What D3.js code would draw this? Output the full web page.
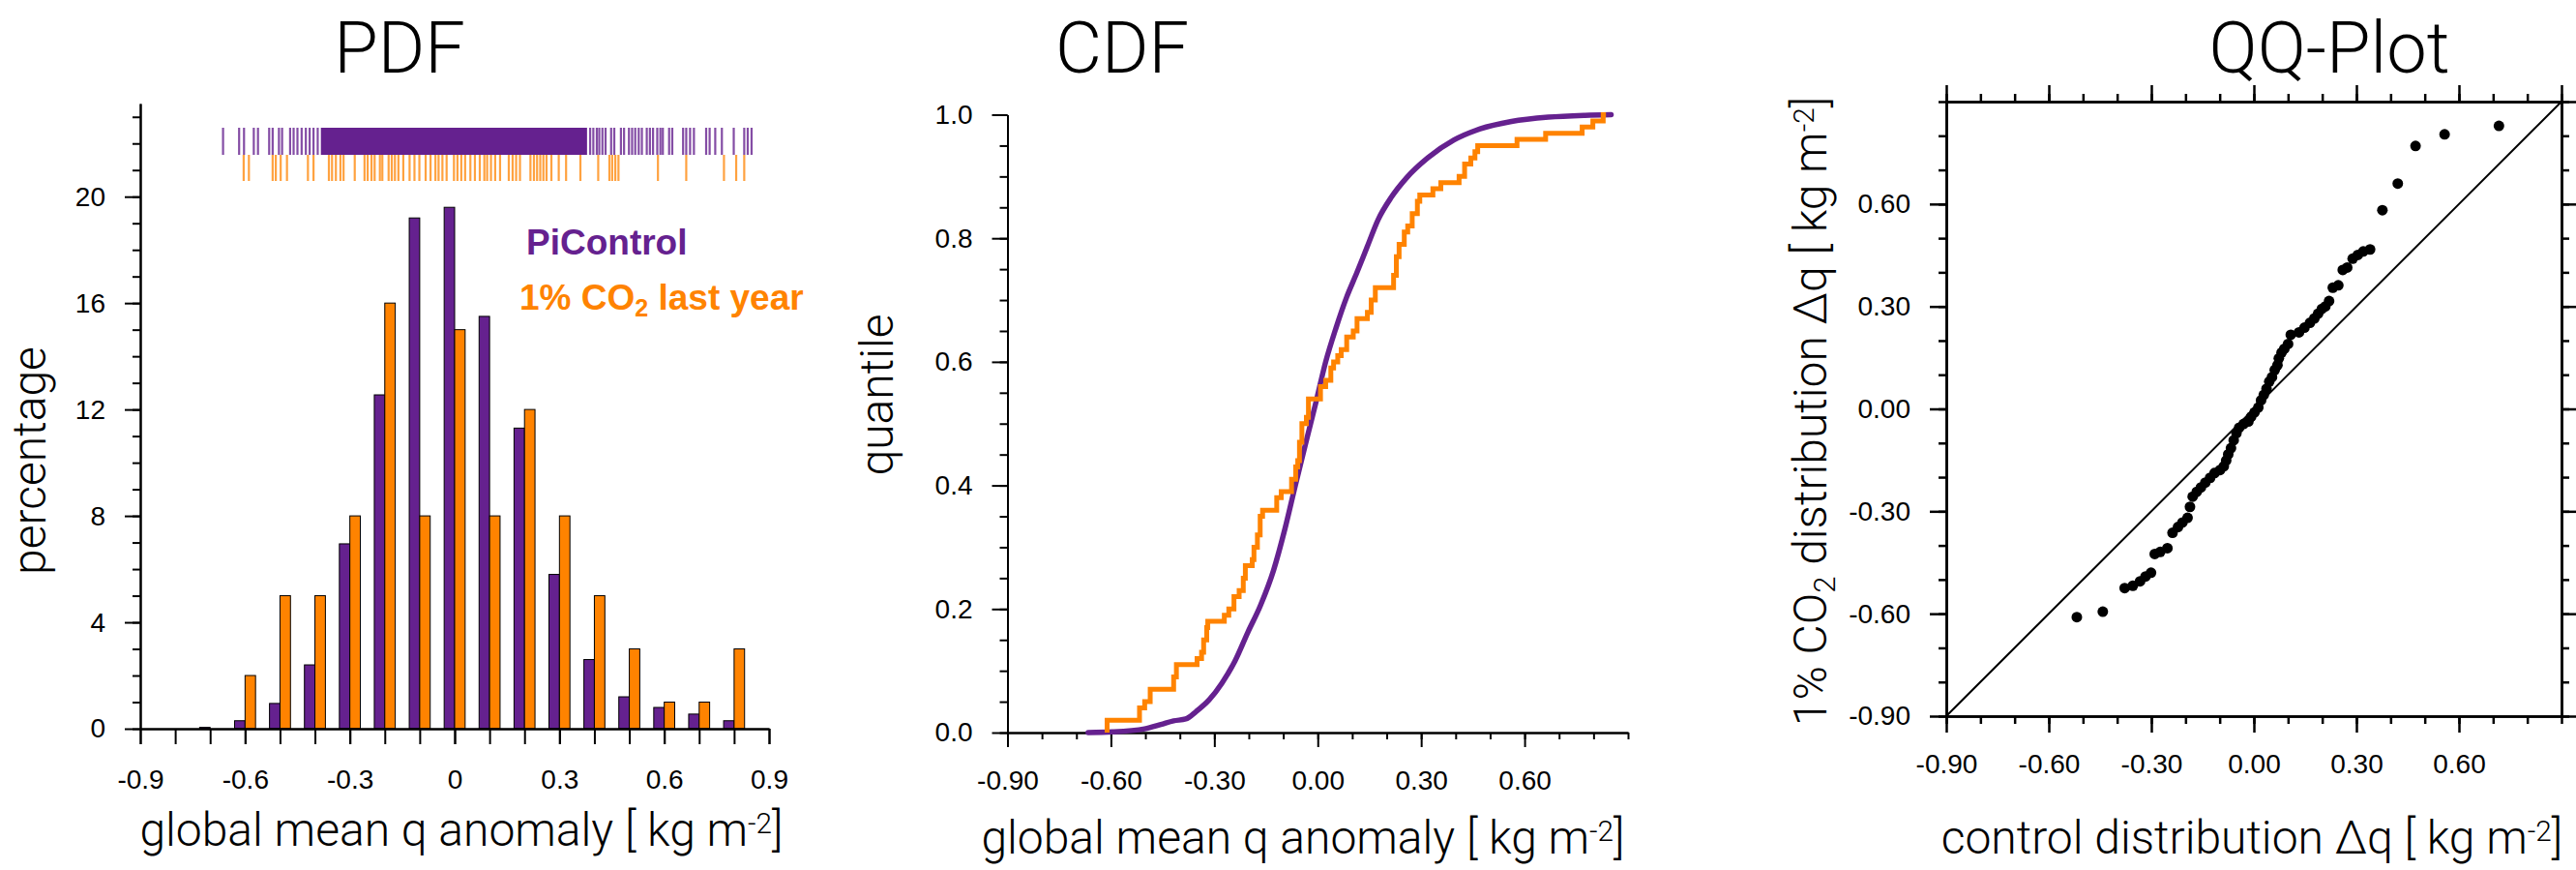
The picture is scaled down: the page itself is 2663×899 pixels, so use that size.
<!DOCTYPE html>
<html>
<head>
<meta charset="utf-8">
<script src="https://cdn.jsdelivr.net/npm/d3@7"></script>
<style>
  body { margin: 0; background: #fff; }
  svg { display: block; }
  .light { font-family: Roboto, "Liberation Sans", Arial, sans-serif; font-weight: 300; fill: #000; }
  .legend { font-family: "Liberation Sans", Arial, sans-serif; font-weight: bold; }
</style>
</head>
<body>
<svg id="fig" width="2663" height="899"></svg>
<script>
var purple = "#65218f",
    orange = "#ff8300",
    tickFont = "Liberation Sans, Arial, sans-serif",
    titleSize = 48;

// ---- PDF panel data (percent per 0.1 bin, bins centred on the ticks)
var pdfBins       = [-0.7, -0.6, -0.5, -0.4, -0.3, -0.2, -0.1, 0.0, 0.1, 0.2, 0.3, 0.4, 0.5, 0.6, 0.7, 0.8];
var pdfPiControl  = [0.05, 0.3, 0.95, 2.4, 6.95, 12.55, 19.2, 19.6, 15.5, 11.3, 5.8, 2.6, 1.2, 0.8, 0.55, 0.3];
var pdfCo2        = [0, 2, 5, 5, 8, 16, 8, 15, 8, 12, 8, 5, 3, 1, 1, 3];
var pdfXTicks     = [-0.9, -0.6, -0.3, 0, 0.3, 0.6, 0.9];
var pdfXLabels    = ["-0.9", "-0.6", "-0.3", "0", "0.3", "0.6", "0.9"];
var pdfYTicks     = [0, 4, 8, 12, 16, 20];
var pdfYLabels    = ["0", "4", "8", "12", "16", "20"];

// rug marks above the histogram
var rugPiControl = [-0.663, -0.617, -0.603, -0.575, -0.563, -0.531, -0.521, -0.503, -0.494, -0.471,
  -0.461, -0.45, -0.438, -0.426, -0.415, -0.404, -0.392,
  0.388, 0.397, 0.407, 0.414, 0.423, 0.432, 0.448, 0.457, 0.476, 0.485, 0.499, 0.508, 0.517,
  0.527, 0.536, 0.55, 0.559, 0.568, 0.58, 0.589, 0.596, 0.614, 0.623, 0.654, 0.663, 0.674,
  0.685, 0.72, 0.73, 0.746, 0.765, 0.799, 0.829, 0.839, 0.85];
var rugPiControlDense = [-0.383, 0.379];   // solid block of marks
var rugCo2 = [-0.604, -0.589, -0.521, -0.512, -0.498, -0.48, -0.42, -0.404, -0.36, -0.351, -0.34,
  -0.327, -0.318, -0.286, -0.258, -0.249, -0.238, -0.229, -0.214, -0.207, -0.189, -0.18, -0.171,
  -0.161, -0.147, -0.129, -0.115, -0.101, -0.083, -0.069, -0.055, -0.046, -0.035, -0.023, -0.002,
  0.008, 0.019, 0.03, 0.045, 0.058, 0.072, 0.085, 0.093, 0.104, 0.116, 0.13, 0.155, 0.166, 0.176,
  0.187, 0.217, 0.227, 0.236, 0.245, 0.254, 0.263, 0.277, 0.298, 0.319, 0.36, 0.411, 0.443, 0.451,
  0.46, 0.469, 0.582, 0.663, 0.771, 0.806, 0.829];

// ---- CDF panel data [anomaly, cumulative fraction]
var cdfPiControl = [[-0.666, 0.0], [-0.596, 0.001], [-0.502, 0.006], [-0.455, 0.013], [-0.418, 0.019],
  [-0.383, 0.022], [-0.353, 0.034], [-0.315, 0.053], [-0.278, 0.08], [-0.24, 0.116], [-0.203, 0.162],
  [-0.166, 0.206], [-0.128, 0.263], [-0.095, 0.33], [-0.065, 0.4], [-0.035, 0.468], [-0.005, 0.535],
  [0.023, 0.6], [0.053, 0.655], [0.084, 0.705], [0.114, 0.745], [0.144, 0.787], [0.175, 0.83],
  [0.213, 0.866], [0.258, 0.898], [0.319, 0.93], [0.395, 0.959], [0.471, 0.977], [0.562, 0.989],
  [0.669, 0.996], [0.775, 0.999], [0.851, 1.0]];
var cdfCo2 = [[-0.611, 0], [-0.611, 0.02], [-0.517, 0.04], [-0.502, 0.05], [-0.486, 0.07],
  [-0.418, 0.09], [-0.41, 0.11], [-0.35, 0.12], [-0.337, 0.13], [-0.331, 0.15], [-0.322, 0.17],
  [-0.319, 0.18], [-0.271, 0.19], [-0.258, 0.2], [-0.243, 0.22], [-0.228, 0.23], [-0.216, 0.25],
  [-0.21, 0.27], [-0.19, 0.28], [-0.185, 0.3], [-0.175, 0.32], [-0.167, 0.35], [-0.16, 0.36],
  [-0.119, 0.38], [-0.106, 0.39], [-0.076, 0.41], [-0.064, 0.43], [-0.058, 0.44], [-0.053, 0.47],
  [-0.046, 0.5], [-0.033, 0.51], [-0.027, 0.54], [0.008, 0.56], [0.023, 0.57], [0.038, 0.59],
  [0.046, 0.6], [0.058, 0.61], [0.068, 0.62], [0.084, 0.64], [0.103, 0.65], [0.114, 0.67],
  [0.125, 0.67], [0.144, 0.68], [0.155, 0.7], [0.167, 0.72], [0.22, 0.74], [0.228, 0.77],
  [0.236, 0.79], [0.251, 0.81], [0.261, 0.82], [0.274, 0.84], [0.289, 0.86], [0.296, 0.87],
  [0.334, 0.88], [0.357, 0.89], [0.41, 0.9], [0.426, 0.92], [0.444, 0.93], [0.456, 0.94],
  [0.464, 0.95], [0.578, 0.96], [0.661, 0.97], [0.767, 0.98], [0.798, 0.99], [0.828, 1.0], [0.836, 1.0]];
var cdfXTicks  = [-0.9, -0.6, -0.3, 0, 0.3, 0.6];
var cdfXLabels = ["-0.90", "-0.60", "-0.30", "0.00", "0.30", "0.60"];
var cdfYTicks  = [0, 0.2, 0.4, 0.6, 0.8, 1.0];
var cdfYLabels = ["0.0", "0.2", "0.4", "0.6", "0.8", "1.0"];

// ---- QQ panel data: control quantile vs 1% CO2 quantile
var qqControl = [-0.518, -0.442, -0.378, -0.354, -0.333, -0.317, -0.301, -0.29, -0.274, -0.253,
  -0.238, -0.222, -0.209, -0.194, -0.187, -0.179, -0.167, -0.155, -0.142, -0.128, -0.115, -0.099,
  -0.088, -0.081, -0.075, -0.067, -0.059, -0.051, -0.043, -0.03, -0.016, -0.008, 0.002, 0.013,
  0.021, 0.029, 0.037, 0.045, 0.053, 0.061, 0.069, 0.073, 0.081, 0.089, 0.1, 0.108, 0.132, 0.148,
  0.164, 0.177, 0.188, 0.199, 0.209, 0.22, 0.231, 0.247, 0.26, 0.273, 0.289, 0.304, 0.32, 0.34,
  0.376, 0.421, 0.473, 0.558, 0.717];
var qqCo2 = [-0.61, -0.594, -0.525, -0.518, -0.505, -0.491, -0.48, -0.425, -0.419, -0.408,
  -0.363, -0.346, -0.333, -0.319, -0.287, -0.257, -0.243, -0.23, -0.216, -0.202, -0.188, -0.179,
  -0.168, -0.151, -0.133, -0.115, -0.092, -0.071, -0.055, -0.044, -0.037, -0.023, -0.01, 0.004,
  0.025, 0.041, 0.059, 0.08, 0.093, 0.114, 0.128, 0.148, 0.165, 0.176, 0.19, 0.217, 0.224, 0.238,
  0.252, 0.265, 0.279, 0.293, 0.3, 0.316, 0.355, 0.362, 0.407, 0.414, 0.44, 0.451, 0.461, 0.467,
  0.582, 0.66, 0.77, 0.804, 0.829];
var qqTicks  = [-0.9, -0.6, -0.3, 0, 0.3, 0.6];
var qqLabels = ["-0.90", "-0.60", "-0.30", "0.00", "0.30", "0.60"];

var tenths = d3.range(-9, 10).map(function(k) { return k / 10; });

var svg = d3.select("#fig");

// major + minor ticks drawn as two stacked d3 axes
function axis(gen, scale, major, labels, minor, majorLen, minorLen, pad, width) {
  return function(g) {
    g.append("g").call(gen(scale).tickValues(minor).tickSize(minorLen).tickSizeOuter(0).tickFormat(""));
    g.append("g").call(gen(scale).tickValues(major).tickSize(majorLen).tickSizeOuter(0)
        .tickPadding(pad).tickFormat(function(d, i) { return labels ? labels[i] : ""; }))
      .attr("font-size", 28).attr("font-family", tickFont);
    g.selectAll("path.domain, line").attr("stroke", "#000").attr("stroke-width", width || 2);
    g.selectAll("text").attr("fill", "#000");
  };
}

function superTitle(sel, main, sup) {
  sel.append("tspan").text(main);
  sel.append("tspan").attr("dy", "-0.45em").attr("font-size", "0.62em").text(sup);
  sel.append("tspan").attr("dy", "0.28em").text("]");
}

// ================= PDF =================
var px = d3.scaleLinear().domain([-0.9, 0.9]).range([145, 795]);
var py = d3.scaleLinear().domain([0, 23.5]).range([753, 107]);
var barW = 0.03;
var pdf = svg.append("g");

pdf.selectAll("rect.pi").data(pdfBins).join("rect")
  .attr("x", function(d) { return px(d - barW); })
  .attr("width", function(d) { return px(d) - px(d - barW); })
  .attr("y", function(d, i) { return py(pdfPiControl[i]); })
  .attr("height", function(d, i) { return py(0) - py(pdfPiControl[i]); })
  .attr("fill", purple).attr("stroke", "#000").attr("stroke-width", 1);

pdf.selectAll("rect.co2").data(pdfBins.filter(function(d, i) { return pdfCo2[i] > 0; })).join("rect")
  .attr("x", function(d) { return px(d); })
  .attr("width", function(d) { return px(d + barW) - px(d); })
  .attr("y", function(d) { return py(pdfCo2[pdfBins.indexOf(d)]); })
  .attr("height", function(d) { return py(0) - py(pdfCo2[pdfBins.indexOf(d)]); })
  .attr("fill", orange).attr("stroke", "#000").attr("stroke-width", 1);

pdf.append("rect")
  .attr("x", px(rugPiControlDense[0])).attr("width", px(rugPiControlDense[1]) - px(rugPiControlDense[0]))
  .attr("y", 132).attr("height", 28).attr("fill", purple);
pdf.selectAll("line.rp").data(rugPiControl).join("line")
  .attr("x1", px).attr("x2", px).attr("y1", 132).attr("y2", 160)
  .attr("stroke", purple).attr("stroke-width", 2.2).attr("stroke-opacity", 0.8);
pdf.selectAll("line.ro").data(rugCo2).join("line")
  .attr("x1", px).attr("x2", px).attr("y1", 160).attr("y2", 187)
  .attr("stroke", orange).attr("stroke-width", 2.2).attr("stroke-opacity", 0.75);

pdf.append("g").attr("transform", "translate(0," + py(0) + ")")
  .call(axis(d3.axisBottom, px, pdfXTicks, pdfXLabels, tenths, 16, 16, 26));
pdf.append("g").attr("transform", "translate(" + px(-0.9) + ",0)")
  .call(axis(d3.axisLeft, py, pdfYTicks, pdfYLabels, d3.range(0, 24), 16, 8, 20));

pdf.append("text").attr("class", "light").attr("font-size", 74)
  .attr("x", 413).attr("y", 75).attr("text-anchor", "middle").text("PDF");
pdf.append("text").attr("class", "light").attr("font-size", titleSize)
  .attr("transform", "translate(47,476) rotate(-90)").attr("text-anchor", "middle").text("percentage");
pdf.append("text").attr("class", "light").attr("font-size", titleSize)
  .attr("x", 477).attr("y", 874).attr("text-anchor", "middle")
  .call(superTitle, "global mean q anomaly [ kg m", "-2");

pdf.append("text").attr("class", "legend").attr("font-size", 37).attr("fill", purple)
  .attr("x", 544).attr("y", 263).text("PiControl");
var lg = pdf.append("text").attr("class", "legend").attr("font-size", 37).attr("fill", orange)
  .attr("x", 537).attr("y", 320);
lg.append("tspan").text("1% CO");
lg.append("tspan").attr("dy", 7).attr("font-size", 25).text("2");
lg.append("tspan").attr("dy", -7).text(" last year");

// ================= CDF =================
var cx = d3.scaleLinear().domain([-0.9, 0.9]).range([1041.5, 1683]);
var cy = d3.scaleLinear().domain([0, 1]).range([757, 118.5]);
var cdf = svg.append("g");

cdf.append("g").attr("transform", "translate(0," + cy(0) + ")")
  .call(axis(d3.axisBottom, cx, cdfXTicks, cdfXLabels, tenths, 15, 7, 24));
cdf.append("g").attr("transform", "translate(" + cx(-0.9) + ",0)")
  .call(axis(d3.axisLeft, cy, cdfYTicks, cdfYLabels, d3.range(0, 21).map(function(k) { return k / 20; }), 16, 8, 20));

var cline = d3.line().x(function(d) { return cx(d[0]); }).y(function(d) { return cy(d[1]); });
cdf.append("path").datum(cdfPiControl).attr("d", cline.curve(d3.curveMonotoneX))
  .attr("fill", "none").attr("stroke", purple).attr("stroke-width", 5.5).attr("stroke-linecap", "round");
cdf.append("path").datum(cdfCo2).attr("d", cline.curve(d3.curveStepAfter))
  .attr("fill", "none").attr("stroke", orange).attr("stroke-width", 5).attr("stroke-linejoin", "miter");

cdf.append("text").attr("class", "light").attr("font-size", 74)
  .attr("x", 1160).attr("y", 75).attr("text-anchor", "middle").text("CDF");
cdf.append("text").attr("class", "light").attr("font-size", titleSize)
  .attr("transform", "translate(923,408) rotate(-90)").attr("text-anchor", "middle").text("quantile");
cdf.append("text").attr("class", "light").attr("font-size", titleSize)
  .attr("x", 1347).attr("y", 882).attr("text-anchor", "middle")
  .call(superTitle, "global mean q anomaly [ kg m", "-2");

// ================= QQ =================
var qx = d3.scaleLinear().domain([-0.9, 0.9]).range([2012, 2648]);
var qy = d3.scaleLinear().domain([-0.9, 0.9]).range([740, 105]);
var qq = svg.append("g");

qq.append("g").attr("transform", "translate(0," + qy(-0.9) + ")")
  .call(axis(d3.axisBottom, qx, qqTicks, qqLabels, tenths, 17, 8, 22, 2.5));
qq.append("g").attr("transform", "translate(0," + qy(0.9) + ")")
  .call(axis(d3.axisTop, qx, qqTicks.concat([0.9]), null, tenths, 17, 8, 0, 2.5));
qq.append("g").attr("transform", "translate(" + qx(-0.9) + ",0)")
  .call(axis(d3.axisLeft, qy, qqTicks, qqLabels, tenths, 17, 8, 20, 2.5));
qq.append("g").attr("transform", "translate(" + qx(0.9) + ",0)")
  .call(axis(d3.axisRight, qy, qqTicks.concat([0.9]), null, tenths, 17, 8, 0, 2.5));

qq.append("line")
  .attr("x1", qx(-0.9)).attr("y1", qy(-0.9)).attr("x2", qx(0.9)).attr("y2", qy(0.9))
  .attr("stroke", "#000").attr("stroke-width", 2);

qq.selectAll("circle").data(qqControl).join("circle")
  .attr("cx", function(d) { return qx(d); })
  .attr("cy", function(d, i) { return qy(qqCo2[i]); })
  .attr("r", 5.5).attr("fill", "#000");

qq.append("text").attr("class", "light").attr("font-size", 74)
  .attr("x", 2408).attr("y", 75).attr("text-anchor", "middle").text("QQ-Plot");
var qyl = qq.append("text").attr("class", "light").attr("font-size", titleSize)
  .attr("transform", "translate(1888,425) rotate(-90)").attr("text-anchor", "middle");
qyl.append("tspan").text("1% CO");
qyl.append("tspan").attr("dy", 9).attr("font-size", 31).text("2");
qyl.append("tspan").attr("dy", -9).text(" distribution \u0394q [ kg m");
qyl.append("tspan").attr("dy", "-0.45em").attr("font-size", "0.62em").text("-2");
qyl.append("tspan").attr("dy", "0.28em").text("]");
qq.append("text").attr("class", "light").attr("font-size", titleSize)
  .attr("x", 2328).attr("y", 882).attr("text-anchor", "middle")
  .call(superTitle, "control distribution \u0394q [ kg m", "-2");
</script>
</body>
</html>
